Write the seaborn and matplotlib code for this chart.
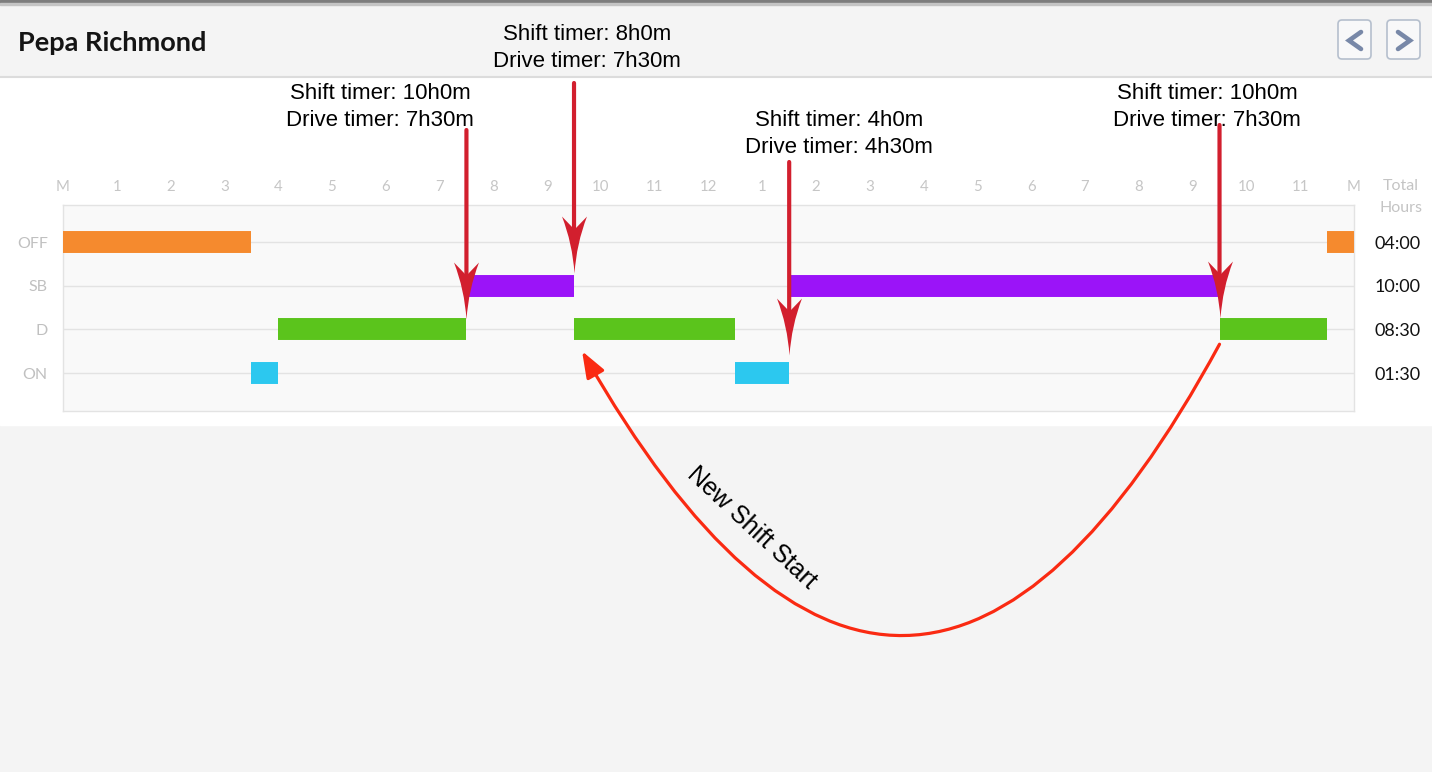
import matplotlib
matplotlib.use('Agg')
import matplotlib.pyplot as plt
import matplotlib.transforms as mtransforms
from matplotlib.patches import Rectangle, FancyBboxPatch
from matplotlib.path import Path
import pandas as pd
import seaborn as sns

# Duty status log for the day (hours after midnight)
statuses = ['OFF', 'SB', 'D', 'ON']
status_colors = ['#f58a2e', '#9b14f8', '#5bc41c', '#2cc8ef']
seg_status = ['OFF', 'ON', 'D', 'SB', 'D', 'ON', 'SB', 'D', 'OFF']
seg_start = [0, 3.5, 4, 7.5, 9.5, 12.5, 13.5, 21.5, 23.5]
seg_end = [3.5, 4, 7.5, 9.5, 12.5, 13.5, 21.5, 23.5, 24]
hour_labels = ['M', '1', '2', '3', '4', '5', '6', '7', '8', '9', '10', '11', '12',
               '1', '2', '3', '4', '5', '6', '7', '8', '9', '10', '11', 'M']

# Timer callouts
note_hours = [7.5, 9.5, 13.5, 21.5]
note_rows = ['D', 'SB', 'ON', 'D']
shift_timer = ['10h0m', '8h0m', '4h0m', '10h0m']
drive_timer = ['7h30m', '7h30m', '4h30m', '7h30m']

# "New Shift Start" curve: from hour/row to hour/row
new_shift_from = (21.5, 'D')
new_shift_to = (9.65, 'D')

# layout (pixels of the 1432x772 canvas)
W, H = 1432, 772
note_text_xy = [(380, 107), (587, 48), (839, 134), (1207, 107)]
note_arrow_top = [130, 83, 162, 125]
note_tip_gap = [0.23, 0.3, 0.42, 0.27]   # rows above the row centre

sns.set_style('white')
plt.rcParams['font.family'] = ['Lato', 'DejaVu Sans']

fig = plt.figure(figsize=(W / 100, H / 100), dpi=100)

# page background drawn in pixel coordinates
bg = fig.add_axes([0, 0, 1, 1])
bg.set_xlim(0, W)
bg.set_ylim(H, 0)
bg.axis('off')
bg.add_patch(Rectangle((0, 0), W, H, color='#f4f4f4'))
bg.add_patch(Rectangle((0, 77), W, 348, color='white'))
bg.add_patch(Rectangle((0, 0), W, 2.5, color='#7d7d7d'))
bg.add_patch(Rectangle((0, 2.5), W, 2, color='#c4c4c4'))
bg.plot([0, W], [76.5, 76.5], color='#dcdcdc', lw=1.5)
bg.text(18, 43, 'Pepa Richmond', fontsize=19.5, fontweight='bold', color='#141414', va='center')

for bx, pts in [(1338, [1361, 1349, 1361]), (1387, [1398, 1410, 1398])]:
    bg.add_patch(FancyBboxPatch((bx, 20), 33, 39, boxstyle='round,pad=0,rounding_size=4',
                                fc='#f8f8f9', ec='#b5bfcd', lw=1.2))
    bg.plot(pts, [32, 40.5, 49], color='#7888a8', lw=3.3, solid_joinstyle='miter')

bg.text(1401, 186, 'Total', ha='center', va='center', fontsize=11.5, color='#c4c4c4')
bg.text(1401, 208, 'Hours', ha='center', va='center', fontsize=11.5, color='#c4c4c4')

# main timeline
ax = fig.add_axes([63 / W, 1 - 411 / H, (1354 - 63) / W, 206 / H])
row_of = {s: i for i, s in enumerate(statuses)}
rows = []
for i, (s, a, b) in enumerate(zip(seg_status, seg_start, seg_end)):
    rows.append({'seg': i, 'status': s, 'hour': a, 'row': row_of[s]})
    rows.append({'seg': i, 'status': s, 'hour': b, 'row': row_of[s]})
df = pd.DataFrame(rows)

sns.lineplot(data=df, x='hour', y='row', hue='status', units='seg', estimator=None,
             hue_order=statuses, palette=dict(zip(statuses, status_colors)),
             linewidth=15.8, solid_capstyle='butt', legend=False, ax=ax, zorder=3)

ax.set_xlim(0, 24)
ax.set_ylim(3.87, -0.85)
ax.set_xlabel('')
ax.set_ylabel('')
ax.set_facecolor('#f9f9f9')
ax.set_xticks(range(25))
ax.set_xticklabels(hour_labels)
ax.xaxis.tick_top()
ax.tick_params(axis='x', length=0, pad=8, labelcolor='#c6c6c6', labelsize=10.8)
ax.set_yticks(range(4))
ax.set_yticklabels(statuses)
ax.tick_params(axis='y', length=0, pad=11, labelcolor='#c0c0c0', labelsize=11.5)
ax.yaxis.grid(True, color='#e3e3e3', lw=1)
ax.xaxis.grid(False)
for sp in ax.spines.values():
    sp.set_color('#e3e3e3')
    sp.set_linewidth(1)

# totals on the right
totals = []
for s in statuses:
    h = sum(b - a for st, a, b in zip(seg_status, seg_start, seg_end) if st == s)
    totals.append(f'{int(h):02d}:{int(round((h % 1) * 60)):02d}')
ax2 = ax.twinx()
ax2.set_ylim(ax.get_ylim())
ax2.set_yticks(range(4))
ax2.set_yticklabels(totals)
ax2.tick_params(axis='y', length=0, pad=15, labelcolor='#111111', labelsize=13)
ax2.grid(False)
for sp in ax2.spines.values():
    sp.set_visible(False)

# concave arrow head marker, tip at (0, 0), pointing down
head = Path([(0, 0), (-2, 30), (-12.5, 57), (0, 44), (12.5, 57), (2, 30), (0, 0), (0, 0)],
            [Path.MOVETO, Path.CURVE3, Path.CURVE3, Path.LINETO, Path.LINETO,
             Path.CURVE3, Path.CURVE3, Path.CLOSEPOLY])

# timer callouts
red = '#d21f2e'
blend = mtransforms.blended_transform_factory(ax.transData, bg.transData)
for h, r, s, d, (tx, ty), top, gap in zip(note_hours, note_rows, shift_timer, drive_timer,
                                          note_text_xy, note_arrow_top, note_tip_gap):
    bg.text(tx, ty, f'Shift timer: {s}\nDrive timer: {d}', ha='center', va='center',
            fontsize=16, family='Liberation Sans', linespacing=1.33, color='black')
    tip = row_of[r] - gap
    ax.annotate('', xy=(h, tip - 0.6), xycoords='data', xytext=(h, top), textcoords=blend,
                arrowprops=dict(arrowstyle='-', color=red, lw=3, shrinkA=0, shrinkB=0),
                annotation_clip=False, zorder=6)
    ax.plot([h], [tip], marker=head, markersize=82, color=red, markeredgewidth=0,
            clip_on=False, zorder=7)

ax.annotate('', xy=(new_shift_to[0], row_of[new_shift_to[1]] + 0.5),
            xytext=(new_shift_from[0], row_of[new_shift_from[1]] + 0.34),
            arrowprops=dict(arrowstyle='-|>,head_length=1.6,head_width=0.6', mutation_scale=10,
                            color='#fa2a12', lw=2.3, connectionstyle='arc3,rad=-0.9',
                            shrinkA=0, shrinkB=0, clip_on=False),
            annotation_clip=False, zorder=6)
bg.text(752, 528, 'New Shift Start', rotation=-43, rotation_mode='anchor', ha='center',
        va='center', fontsize=18, family='Liberation Sans', color='black')

fig.savefig('out.png', dpi=100)
